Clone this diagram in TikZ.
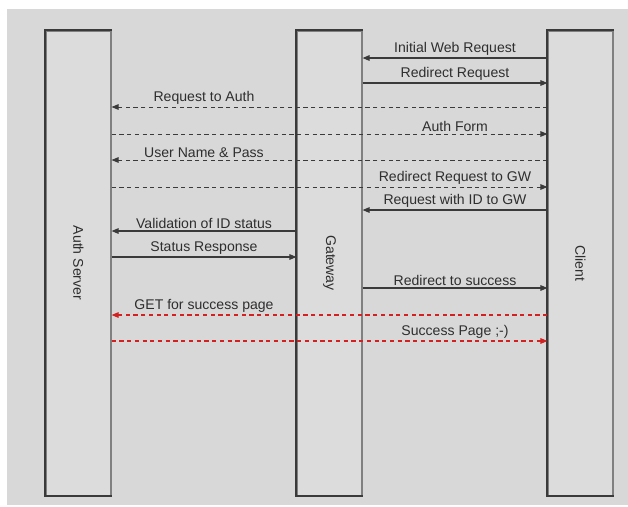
\documentclass[tikz,border=0pt]{standalone}
\usepackage{fontspec}
\setmainfont{Liberation Sans}
\usetikzlibrary{positioning,arrows.meta}
\definecolor{PageGray}{HTML}{D8D8D8}
\definecolor{BoxGray}{HTML}{DCDCDC}
\definecolor{EdgeGray}{HTML}{3A3A3A}
\definecolor{TextGray}{HTML}{2E2E2E}
\definecolor{LinkRed}{HTML}{D32020}

\begin{document}
\begin{tikzpicture}[x=0.025cm,y=-0.025cm,
      lifebox/.style={rectangle,draw=gray,line width=0.8pt,fill=BoxGray,minimum width=1.625cm,minimum height=11.6cm},
      boxedge/.style={draw=EdgeGray,line width=1.4pt},
      lbl/.style={text=TextGray,font=\fontsize{10}{12}\selectfont,inner sep=1.5pt},
      callarrow/.style={-{Triangle[length=5pt,width=4pt]},line width=0.8pt,draw=EdgeGray},
      replyarrow/.style={callarrow,line width=0.6pt,dash pattern=on 3pt off 2.5pt},
      hotarrow/.style={-{Triangle[length=5pt,width=4pt]},line width=0.8pt,draw=LinkRed,dash pattern=on 3pt off 2.5pt},
      >=Latex
    ]
    \fill[white] (0,0) rectangle (628,506);
    \fill[PageGray] (7,9) rectangle (628,505);
    \useasboundingbox (0,0) rectangle (628,506);
    \node[lifebox] (auth) at (78.5,263) {};
    \node[lifebox] (gate) at (329.5,263) {};
    \node[lifebox] (client) at (580.5,263) {};
    \foreach \x in {auth,gate,client}
      \draw[boxedge] (\x.north east) -- (\x.north west) -- (\x.south west) -- (\x.south east);
    \node[lbl,rotate=-90] (authname) at (auth) {Auth Server};
    \node[lbl,rotate=-90] (gatename) at (gate) {Gateway};
    \node[lbl,rotate=-90] (clientname) at (client) {Client};
    \foreach \y/\a/\b/\lx/\st/\txt [count=\i] in {
        58/client.west/gate.east/455/callarrow/Initial Web Request,
        83/gate.east/client.west/455/callarrow/Redirect Request,
        107/client.west/auth.east/204/replyarrow/Request to Auth,
        134/auth.east/client.west/455/replyarrow/Auth Form,
        160/client.west/auth.east/204/replyarrow/User Name \& Pass,
        187/auth.east/client.west/455/replyarrow/Redirect Request to GW,
        210/client.west/gate.east/455/callarrow/Request with ID to GW,
        231/gate.west/auth.east/204/callarrow/Validation of ID status,
        257/auth.east/gate.west/204/callarrow/Status Response,
        288/gate.east/client.west/455/callarrow/Redirect to success,
        315/client.west/auth.east/204/hotarrow/GET for success page,
        341/auth.east/client.west/455/hotarrow/Success Page ;-)}{
      \draw[\st] (\a |- 0,\y) -- (\b |- 0,\y);
      \node[lbl,above] (msg\i) at (\lx,\y) {\txt};
    }
  \end{tikzpicture}
\end{document}
